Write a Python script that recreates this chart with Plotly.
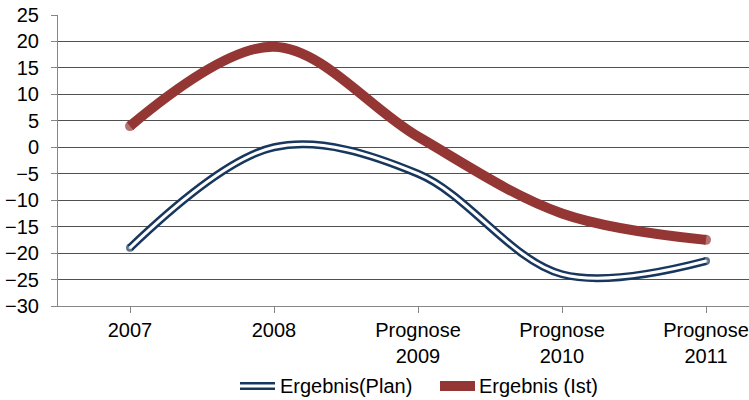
import plotly.graph_objects as go

categories = ["2007", "2008", "Prognose<br>2009", "Prognose<br>2010", "Prognose<br>2011"]
plan_values = [-19.0, 0.0, -5.0, -24.0, -21.5]
ist_values = [4.0, 19.0, 2.0, -12.5, -17.5]
y_ticks = [-30, -25, -20, -15, -10, -5, 0, 5, 10, 15, 20, 25]
series_names = ["Ergebnis(Plan)", "Ergebnis (Ist)"]

NAVY = "#17375E"
RED = "#943634"
FONT = "Liberation Sans, Arial, sans-serif"

W, H = 749, 400
ML, MR, MT, MB = 58, 0, 15, 94
cat_px = 144.0
x_hi = -0.5 + (W - ML - MR) / cat_px

xs = list(range(len(categories)))
is_inner = [0 < i < len(xs) - 1 for i in xs]

fig = go.Figure()
# Plan: double line (navy outline, white core)
fig.add_trace(go.Scatter(
    x=xs, y=plan_values, mode="lines+markers", name=series_names[0],
    line=dict(color=NAVY, width=8, shape="spline", smoothing=1),
    marker=dict(size=[0 if s else 8 for s in is_inner], color=NAVY, line=dict(width=0)),
    showlegend=False, hoverinfo="skip"))
fig.add_trace(go.Scatter(
    x=xs, y=plan_values, mode="lines+markers",
    line=dict(color="white", width=3, shape="spline", smoothing=1),
    marker=dict(size=[0 if s else 3 for s in is_inner], color="white", line=dict(width=0)),
    showlegend=False, hoverinfo="skip"))
# Ist: thick red line
fig.add_trace(go.Scatter(
    x=xs, y=ist_values, mode="lines+markers", name=series_names[1],
    line=dict(color=RED, width=10, shape="spline", smoothing=1),
    marker=dict(size=[0 if s else 10 for s in is_inner], color=RED, line=dict(width=0)),
    showlegend=False, hoverinfo="skip"))

def px_x(p):
    return (p - ML) / (W - ML - MR)

def px_y(p):
    return (H - MB - p) / (H - MT - MB)

ly = 386
shapes = [
    dict(type="line", xref="paper", yref="paper", x0=px_x(240), x1=px_x(275), y0=px_y(ly), y1=px_y(ly),
         line=dict(color=NAVY, width=8)),
    dict(type="line", xref="paper", yref="paper", x0=px_x(240), x1=px_x(275), y0=px_y(ly), y1=px_y(ly),
         line=dict(color="white", width=3)),
    dict(type="line", xref="paper", yref="paper", x0=px_x(440), x1=px_x(475), y0=px_y(ly), y1=px_y(ly),
         line=dict(color=RED, width=10)),
]
annotations = [
    dict(xref="paper", yref="paper", x=px_x(278), y=px_y(ly), text=series_names[0], showarrow=False,
         xanchor="left", yanchor="middle", font=dict(family=FONT, size=20, color="black")),
    dict(xref="paper", yref="paper", x=px_x(477), y=px_y(ly), text=series_names[1], showarrow=False,
         xanchor="left", yanchor="middle", font=dict(family=FONT, size=20, color="black")),
]

fig.update_layout(
    width=W, height=H,
    margin=dict(l=ML, r=MR, t=MT, b=MB, pad=0, autoexpand=False),
    paper_bgcolor="white", plot_bgcolor="white",
    font=dict(family=FONT, size=20, color="black"),
    showlegend=False,
    shapes=shapes, annotations=annotations,
    xaxis=dict(
        range=[-0.5, x_hi], tickmode="array", tickvals=xs, ticktext=categories,
        tickson="boundaries", ticks="outside", ticklen=6, tickcolor="#868686",
        showgrid=False, zeroline=False, showline=True, linecolor="#868686", linewidth=1,
        tickfont=dict(family=FONT, size=20, color="black"), fixedrange=True, automargin=False,
    ),
    yaxis=dict(
        range=[-30, 25], tickmode="array", tickvals=y_ticks,
        ticks="outside", ticklen=6, tickcolor="#868686", ticklabelstandoff=8,
        showgrid=True, gridcolor="#505050", gridwidth=1,
        zeroline=False, showline=True, linecolor="#868686", linewidth=1,
        tickfont=dict(family=FONT, size=20, color="black"), fixedrange=True, automargin=False,
    ),
)

fig.write_html(
    "out.html",
    config={"displayModeBar": False},
    post_script="document.body.style.margin='0px';document.body.style.overflow='hidden';",
)
